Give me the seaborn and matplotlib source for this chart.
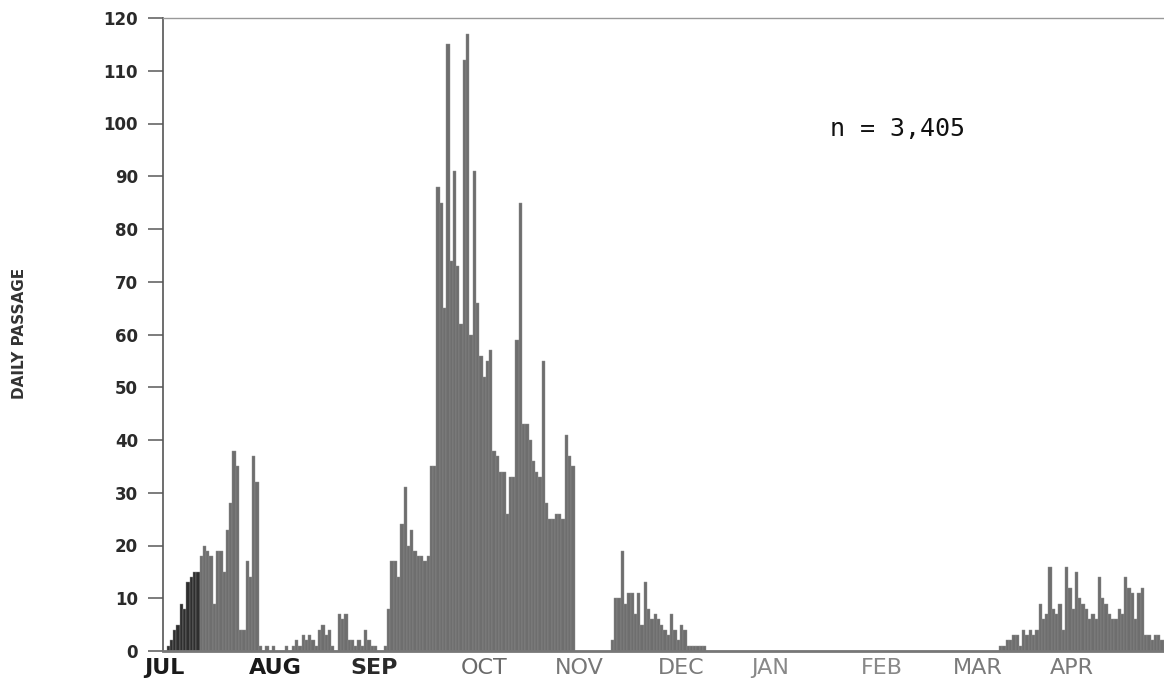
import numpy as np
import pandas as pd
import matplotlib
matplotlib.use("Agg")
import matplotlib.pyplot as plt
import seaborn as sns

# ---- data (daily passage, Jul 1 .. Apr 30) ----
jul = [0, 1, 2, 4, 5, 9, 8, 13, 14, 15, 15, 18, 20, 19, 18, 9, 19, 19, 15, 23,
       28, 38, 35, 4, 4, 17, 14, 37, 32, 1, 0]
aug = [1, 0, 1, 0, 0, 0, 1, 0, 1, 2, 1, 3, 2, 3, 2, 1, 4, 5, 3, 4,
       1, 0, 7, 6, 7, 2, 2, 1, 2, 1, 4]
sep = [2, 1, 1, 0, 0, 1, 8, 17, 17, 14, 24, 31, 20, 23, 19, 18, 18, 17, 18, 35,
       35, 88, 85, 65, 115, 74, 91, 73, 62, 112]
oct_ = [117, 60, 91, 66, 56, 52, 55, 57, 38, 37, 34, 34, 26, 33, 33, 59, 85, 43, 43, 40,
        36, 34, 33, 55, 28, 25, 25, 26, 26, 25, 41]
nov = [37, 35, 0, 0, 0, 0, 0, 0, 0, 0, 0, 0, 0, 2, 10, 10, 19, 9, 11, 11,
       7, 11, 5, 13, 8, 6, 7, 6, 5, 4]
dec = [3, 7, 4, 2, 5, 4, 1, 1, 1, 1, 1, 1, 0, 0, 0, 0, 0, 0, 0, 0,
       0, 0, 0, 0, 0, 0, 0, 0, 0, 0, 0]
jan = [0] * 31
feb = [0] * 28
mar = [0, 0, 0, 0, 0, 0, 0, 0, 0, 0, 0, 1, 1, 2, 2, 3, 3, 1, 4, 3,
       4, 3, 4, 9, 6, 7, 16, 8, 7, 9, 4]
apr = [16, 12, 8, 15, 10, 9, 8, 6, 7, 6, 14, 10, 9, 7, 6, 6, 8, 7, 14, 12,
       11, 6, 11, 12, 3, 3, 2, 3, 3, 2]

month_labels = ["JUL", "AUG", "SEP", "OCT", "NOV", "DEC", "JAN", "FEB", "MAR", "APR"]
month_label_pos = [-0.3, 33.4, 63.5, 97, 125.8, 157, 184, 218, 247, 275.7]
month_label_colors = ["#1a1a1a", "#1a1a1a", "#2a2a2a", "#6a6a6a", "#777777",
                      "#7a7a7a", "#888888", "#888888", "#7a7a7a", "#7a7a7a"]
y_ticks = list(range(0, 121, 10))
annotation = "n = 3,405"

values = jul + aug + sep + oct_ + nov + dec + jan + feb + mar + apr
days = np.arange(len(values))
shade = ["dark" if d < 11 else "gray" for d in days]
df = pd.DataFrame({"day": days, "passage": values, "shade": shade})

sns.set_style("white")
plt.rcParams["font.family"] = ["DejaVu Sans"]

fig = plt.figure(figsize=(11.64, 6.92), dpi=100)
ax = fig.add_axes([163 / 1164, 41 / 692, 1 - 163 / 1164, (651 - 18) / 692])

sns.barplot(data=df, x="day", y="passage", hue="shade", native_scale=True,
            dodge=False, legend=False, width=1.0,
            palette={"dark": "#2e2e2e", "gray": "#6e6e6e"},
            edgecolor="#8e8e8e", linewidth=0.3, ax=ax)

ax.set_xlim(-0.6, 303.6)
ax.set_ylim(0, 120)
ax.set_yticks(y_ticks)
ax.set_yticklabels([str(t) for t in y_ticks], fontsize=12, fontweight="bold",
                   color="#2a2a2a")
ax.tick_params(axis="y", direction="out", length=11, width=1.2, color="#666666",
               pad=7, left=True)
ax.set_xticks(month_label_pos)
ax.set_xticklabels(month_labels, fontsize=16)
for lbl, c in zip(ax.get_xticklabels(), month_label_colors):
    lbl.set_color(c)
    if c in ("#1a1a1a", "#2a2a2a"):
        lbl.set_fontweight("bold")
ax.tick_params(axis="x", length=0, pad=5)
ax.set_xlabel("")
ax.set_ylabel("")

for side in ["left", "bottom", "top"]:
    ax.spines[side].set_visible(True)
ax.spines["right"].set_visible(False)
ax.spines["left"].set_color("#555555")
ax.spines["left"].set_linewidth(1.2)
ax.spines["bottom"].set_color("#777777")
ax.spines["bottom"].set_linewidth(2.0)
ax.spines["top"].set_color("#999999")
ax.spines["top"].set_linewidth(1.0)

ax.text(202, 99, annotation, fontsize=18, family="DejaVu Sans Mono",
        ha="left", va="center", color="#111111")

fig.text(20 / 1164, 1 - 333 / 692, "DAILY PASSAGE", rotation=90, fontsize=11,
         fontweight="bold", color="#333333", ha="center", va="center")

fig.savefig("out.png", dpi=100)
